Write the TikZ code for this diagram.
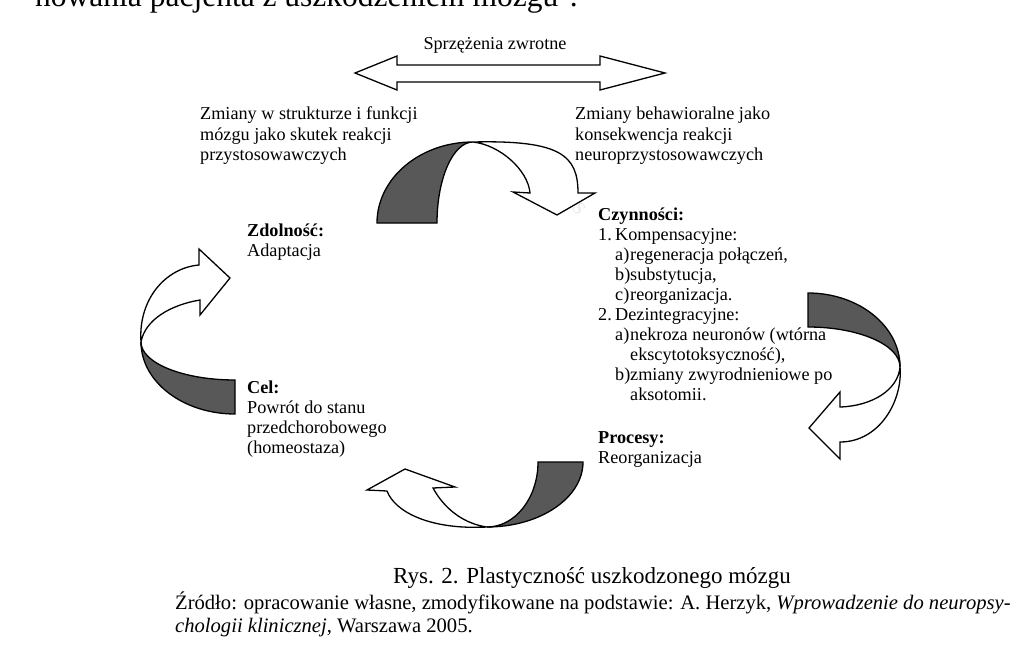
\documentclass[tikz,border=0pt]{standalone}
\usepackage{fontspec}
\setmainfont{Liberation Serif}
\newcommand{\dfont}{\fontsize{18.2}{20}\selectfont}
\begin{document}
\begin{tikzpicture}[x=1pt,y=-1pt]
\definecolor{bandgray}{RGB}{88,88,88}
\tikzset{
  arw/.style={draw=black, line width=1.3pt, fill=white, line join=miter},
  arwdark/.style={draw=black, line width=1.3pt, fill=bandgray, line join=miter},
  lbl/.style={anchor=base west, inner sep=0pt, font=\dfont},
  lblb/.style={lbl, font=\dfont\bfseries},
  srcfont/.style={anchor=base west, inner sep=0pt, font=\fontsize{20.6}{23}\selectfont},
}
\useasboundingbox (0,0) rectangle (1030,650);
\fill[white] (0,0) rectangle (1030,650);

% clipped running text at the top
\node[anchor=base west, inner sep=0pt, font=\fontsize{31.5}{34}\selectfont] (run) at (35,7) {nowania pacjenta z uszkodzeniem mózgu\textsuperscript{4}.};

% watermark
\node[inner sep=0pt, text=black!9, rotate=-50, font=\fontsize{18}{20}\selectfont] (wm) at (566,193) {UMCS};

% feedback double arrow
\node[anchor=base, inner sep=0pt, font=\dfont] (fb) at (495,50) {Sprzężenia zwrotne};
\draw[arw] (355,73) -- (397,56) -- (397,65) -- (600,65) -- (600,56) -- (665,73)
  -- (600,90) -- (600,82) -- (397,82) -- (397,90) -- cycle;

% top texts
\node[lbl] (tl1) at (200,120) {Zmiany w strukturze i funkcji};
\node[lbl] (tl2) at (200,140) {mózgu jako skutek reakcji};
\node[lbl] (tl3) at (200,160) {przystosowawczych};
\node[lbl] (tr1) at (575,120) {Zmiany behawioralne jako};
\node[lbl] (tr2) at (575,140) {konsekwencja reakcji};
\node[lbl] (tr3) at (575,160) {neuroprzystosowawczych};

% left texts
\node[lblb] (zd1) at (247,236) {Zdolność:};
\node[lbl] (zd2) at (247,256) {Adaptacja};
\node[lblb] (ce1) at (247,393) {Cel:};
\node[lbl] (ce2) at (247,413) {Powrót do stanu};
\node[lbl] (ce3) at (247,433) {przedchorobowego};
\node[lbl] (ce4) at (247,453) {(homeostaza)};

% right texts
\node[lblb] (cz0) at (598,220) {Czynności:};
\node[lbl] (cz1n) at (598,240) {1.};
\node[lbl] (cz1) at (615,240) {Kompensacyjne:};
\node[lbl] (cz1an) at (615,260) {a)};
\node[lbl] (cz1a) at (630,260) {regeneracja połączeń,};
\node[lbl] (cz1bn) at (615,280) {b)};
\node[lbl] (cz1b) at (630,280) {substytucja,};
\node[lbl] (cz1cn) at (615,300) {c)};
\node[lbl] (cz1c) at (630,300) {reorganizacja.};
\node[lbl] (cz2n) at (598,320) {2.};
\node[lbl] (cz2) at (615,320) {Dezintegracyjne:};
\node[lbl] (cz2an) at (615,340) {a)};
\node[lbl] (cz2a) at (630,340) {nekroza neuronów (wtórna};
\node[lbl] (cz2a2) at (630,360) {ekscytotoksyczność),};
\node[lbl] (cz2bn) at (615,380) {b)};
\node[lbl] (cz2b) at (630,380) {zmiany zwyrodnieniowe po};
\node[lbl] (cz2b2) at (630,400) {aksotomii.};
\node[lblb] (pr1) at (598,443) {Procesy:};
\node[lbl] (pr2) at (598,463) {Reorganizacja};

% top curved arrow
\draw[arwdark] (377,223) .. controls (377,178.3) and (420,142) .. (473,142)
  .. controls (453.1,142) and (437,178.3) .. (437,223) -- cycle;
\draw[arw] (473,142) .. controls (560,140) and (578,155) .. (578,193)
  -- (595,193) -- (557,215) -- (513,192) -- (530,193)
  .. controls (528,170) and (500,145) .. (473,142) -- cycle;

% right curved arrow
\draw[arwdark] (808,293) .. controls (858.8,293) and (900,326.1) .. (900,367)
  .. controls (900,344.9) and (858.8,327) .. (808,327) -- cycle;
\draw[arw] (900,367) .. controls (903,400) and (880,442) .. (840,442)
  -- (840,459) -- (809,428) -- (840,392) -- (840,407)
  .. controls (872,406) and (898,390) .. (900,367) -- cycle;

% bottom curved arrow
\draw[arwdark] (583,462) .. controls (583,497.9) and (540,527) .. (487,527)
  .. controls (515.2,527) and (538,497.9) .. (538,462) -- cycle;
\draw[arw] (487,527) .. controls (430,530) and (395,512) .. (387,491)
  -- (367,490) -- (405,469) -- (455,487) -- (433,488)
  .. controls (445,510) and (465,524) .. (487,527) -- cycle;

% left curved arrow
\draw[arwdark] (235,414) .. controls (183.1,414) and (141,381.8) .. (141,342)
  .. controls (141,363) and (183.1,380) .. (235,380) -- cycle;
\draw[arw] (141,342) .. controls (138,300) and (165,268) .. (199,265)
  -- (199,249) -- (230,278) -- (200,315) -- (200,300)
  .. controls (170,305) and (145,320) .. (141,342) -- cycle;

% caption
\node[anchor=base, inner sep=0pt, font=\fontsize{23}{26}\selectfont] (cap) at (592,583) {Rys. 2. Plastyczność uszkodzonego mózgu};
\node[srcfont] (src1) at (175,609) {Źródło: opracowanie własne, zmodyfikowane na podstawie: A. Herzyk, \textit{Wprowadzenie do neuropsy-}};
\node[srcfont] (src2) at (175,632) {\textit{chologii klinicznej}, Warszawa 2005.};
\end{tikzpicture}
\end{document}
